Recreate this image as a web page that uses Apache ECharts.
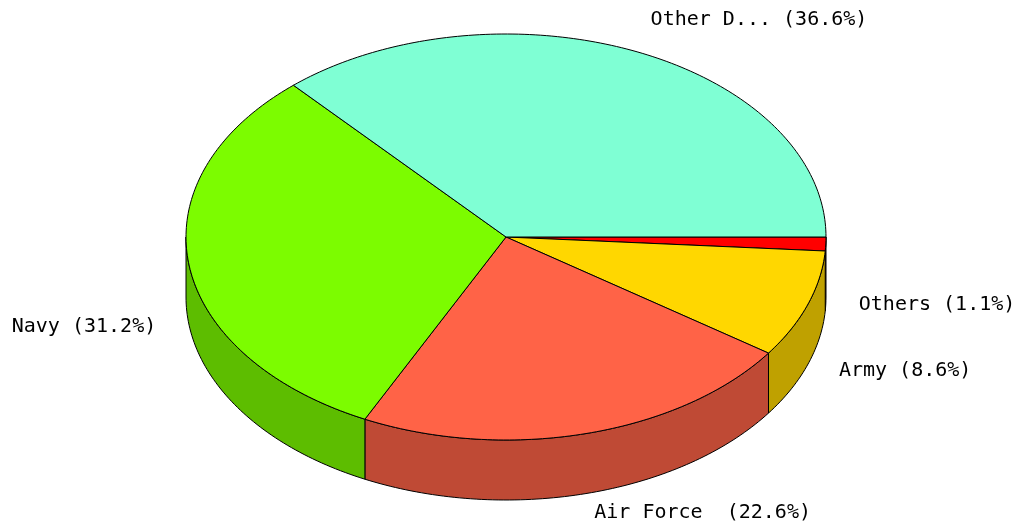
<!DOCTYPE html>
<html>
<head>
<meta charset="utf-8">
<script src="https://cdn.jsdelivr.net/npm/echarts@6/dist/echarts.min.js"></script>
<style>
html, body { margin: 0; padding: 0; background: #fff; }
#chart { width: 1014px; height: 527px; }
</style>
</head>
<body>
<div id="chart"></div>
<script>
// slices in clockwise order, starting at 3 o'clock
var names = ['Others', 'Army', 'Air Force ', 'Navy', 'Other D...'];
var values = [1.1, 8.6, 22.6, 31.2, 36.6];
var topColors = ['#FF0000', '#FFD700', '#FF6347', '#7CFC00', '#7FFFD4'];

var total = values.reduce(function (a, b) { return a + b; }, 0);
var starts = [], ends = [];
var acc = 0;
values.forEach(function (v) {
    starts.push(acc / total * 360);
    acc += v;
    ends.push(acc / total * 360);
});

// darker shade for the pie side walls
function shade(hex, f) {
    var n = parseInt(hex.slice(1), 16);
    var r = Math.round(((n >> 16) & 255) * f);
    var g = Math.round(((n >> 8) & 255) * f);
    var b = Math.round((n & 255) * f);
    return 'rgb(' + r + ',' + g + ',' + b + ')';
}

var cx = 506, cy = 237, rx = 320, ry = 203, depth = 60;

function arcPts(a0, a1, dy) {
    var pts = [];
    var n = Math.max(2, Math.ceil(Math.abs(a1 - a0)));
    for (var k = 0; k <= n; k++) {
        var a = (a0 + (a1 - a0) * k / n) * Math.PI / 180;
        pts.push([cx + rx * Math.cos(a), cy + ry * Math.sin(a) + dy]);
    }
    return pts;
}

var chart = echarts.init(document.getElementById('chart'));

chart.setOption({
    animation: false,
    series: [{
        type: 'custom',
        coordinateSystem: 'none',
        silent: true,
        data: values,
        renderItem: function (params, api) {
            var i = params.dataIndex;
            var a0 = starts[i], a1 = ends[i];
            var children = [];

            // front side wall (only the part facing the viewer)
            var s0 = Math.max(a0, 0), s1 = Math.min(a1, 180);
            if (s1 > s0) {
                children.push({
                    type: 'polygon',
                    shape: { points: arcPts(s0, s1, 0).concat(arcPts(s1, s0, depth)) },
                    style: { fill: shade(topColors[i], 0.75), stroke: '#000', lineWidth: 1 },
                    z2: 1
                });
            }

            // top face
            children.push({
                type: 'polygon',
                shape: { points: [[cx, cy]].concat(arcPts(a0, a1, 0)) },
                style: { fill: topColors[i], stroke: '#000', lineWidth: 1 },
                z2: 2
            });

            // label
            var mid = (a0 + a1) / 2 * Math.PI / 180;
            var c = Math.cos(mid), s = Math.sin(mid);
            var pct = (api.value(0) / total * 100).toFixed(1);
            children.push({
                type: 'text',
                x: cx + c * (rx + 33),
                y: cy + s * (ry + (s < 0 ? 35 : 20)) + (s > 0 ? depth : 0),
                style: {
                    text: names[i] + ' (' + pct + '%)',
                    fill: '#000',
                    font: '20px "DejaVu Sans Mono"',
                    align: c >= 0 ? 'left' : 'right',
                    verticalAlign: 'middle'
                },
                z2: 3
            });

            return { type: 'group', children: children };
        }
    }]
});
</script>
</body>
</html>
